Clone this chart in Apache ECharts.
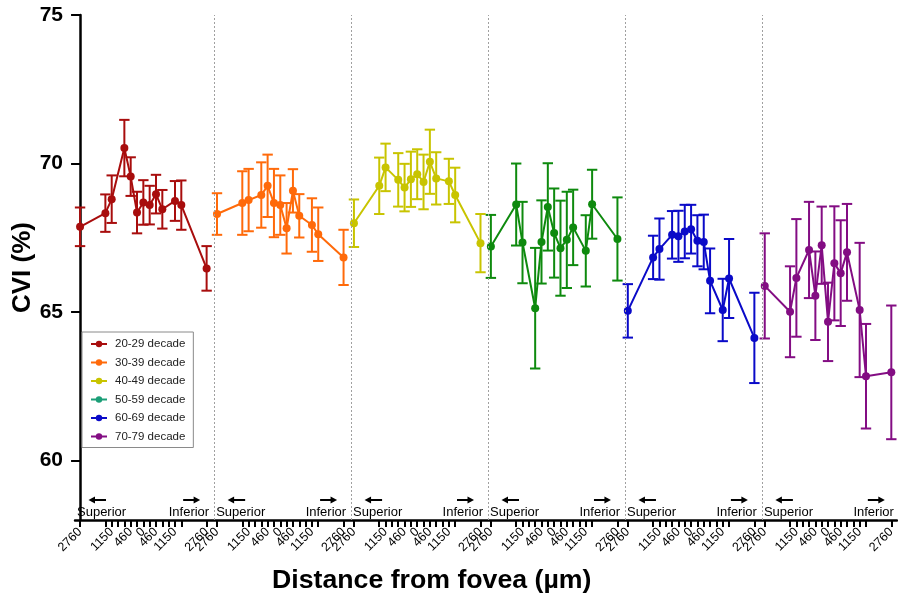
<!DOCTYPE html>
<html>
<head>
<meta charset="utf-8">
<script src="https://cdn.jsdelivr.net/npm/echarts@6/dist/echarts.min.js"></script>
<style>html,body{margin:0;padding:0;background:#fff;}#c{width:898px;height:597px;}</style>
</head>
<body>
<div id="c"></div>
<script>
// ---- data ----
const slotPositions = [0, 4, 5, 7, 8, 9, 10, 11, 12, 13, 15, 16, 20];
const tickSlots = [0, 4, 5, 6, 7, 8, 9, 10, 11, 12, 13, 14, 15, 16, 20];
const labelSlots = [0, 5, 8, 10, 12, 15, 20];
const tickLabels = ['2760', '1150', '460', '0', '460', '1150', '2760'];
const decades = ['20-29 decade', '30-39 decade', '40-49 decade', '50-59 decade', '60-69 decade', '70-79 decade'];
const regionLeft = 'Superior';
const regionRight = 'Inferior';

const cvi2029 = [67.87, 68.33, 68.80, 70.52, 69.56, 68.35, 68.69, 68.60, 68.97, 68.46, 68.74, 68.60, 66.47];
const err2029 = [0.65, 0.63, 0.80, 0.95, 0.65, 0.70, 0.75, 0.65, 0.65, 0.65, 0.67, 0.83, 0.75];
const cvi3039 = [68.30, 68.67, 68.77, 68.94, 69.25, 68.67, 68.60, 67.82, 69.08, 68.24, 67.93, 67.62, 66.84];
const err3039 = [0.70, 1.07, 1.05, 1.10, 1.05, 1.15, 1.00, 0.85, 0.73, 0.73, 0.90, 0.90, 0.93];
const cvi4049 = [67.99, 69.25, 69.87, 69.45, 69.19, 69.47, 69.64, 69.38, 70.06, 69.50, 69.40, 68.94, 67.32];
const err4049 = [0.80, 0.95, 0.80, 0.90, 0.80, 0.93, 0.84, 0.92, 1.08, 0.88, 0.76, 0.92, 0.98];
const cvi5059 = [67.21, 68.62, 67.34, 65.13, 67.36, 68.54, 67.66, 67.15, 67.43, 67.85, 67.06, 68.63, 67.46];
const err5059 = [1.06, 1.38, 1.37, 2.03, 1.40, 1.47, 1.50, 1.60, 1.62, 1.27, 1.20, 1.16, 1.40];
const cvi6069 = [65.04, 66.84, 67.12, 67.60, 67.55, 67.71, 67.79, 67.40, 67.36, 66.05, 65.07, 66.13, 64.13];
const err6069 = [0.90, 0.73, 1.03, 0.80, 0.86, 0.90, 0.82, 0.86, 0.92, 1.09, 1.05, 1.33, 1.52];
const cvi7079 = [65.88, 65.01, 66.15, 67.09, 65.55, 67.25, 64.67, 66.64, 66.31, 67.01, 65.07, 62.84, 62.97];
const err7079 = [1.77, 1.53, 1.98, 1.62, 1.49, 1.30, 1.32, 1.92, 1.78, 1.63, 2.26, 1.76, 2.25];

const yTicks = [60, 65, 70, 75];

// ---- layout / style ----
const GROUP_SPAN = 21.64;   // slots per group block on the x axis
const SEP_SHIFT = 0.45;
const X_MIN = -0.8, X_MAX = 129.1;
const Y_MIN = 58, Y_MAX = 75;
const dataColors = ['#a80d0d', '#ff6a0a', '#c8c400', '#0e8a0e', '#0a0ac8', '#830d83'];
const legendColors = ['#a80d0d', '#ff6a0a', '#c8c400', '#1b9e77', '#0a0ac8', '#830d83'];
const FONT = 'Liberation Sans, Arial, Helvetica, sans-serif';

const cviAll = [cvi2029, cvi3039, cvi4049, cvi5059, cvi6069, cvi7079];
const errAll = [err2029, err3039, err4049, err5059, err6069, err7079];

const chart = echarts.init(document.getElementById('c'), null, {renderer: 'canvas'});

const xTickValues = [], xLabelValues = [], labelMap = {};
for (let g = 0; g < 6; g++) {
  tickSlots.forEach(s => xTickValues.push(g * GROUP_SPAN + s));
  labelSlots.forEach((s, i) => {
    const v = g * GROUP_SPAN + s;
    xLabelValues.push(v);
    labelMap[v.toFixed(3)] = tickLabels[i];
  });
}

const series = [];
for (let g = 0; g < 6; g++) {
  const color = dataColors[g];
  const lineData = slotPositions.map((s, i) => [g * GROUP_SPAN + s, cviAll[g][i]]);
  const errData = slotPositions.map((s, i) => [g * GROUP_SPAN + s, cviAll[g][i] - errAll[g][i], cviAll[g][i] + errAll[g][i]]);
  series.push({
    type: 'custom',
    name: 'err' + g,
    z: 2,
    encode: {x: 0, y: [1, 2]},
    data: errData,
    renderItem: function (params, api) {
      const x = api.value(0);
      const lo = api.coord([x, api.value(1)]);
      const hi = api.coord([x, api.value(2)]);
      const hw = 5.2;
      const st = {stroke: color, lineWidth: 2};
      return {type: 'group', children: [
        {type: 'line', shape: {x1: hi[0], y1: hi[1], x2: lo[0], y2: lo[1]}, style: st},
        {type: 'line', shape: {x1: hi[0] - hw, y1: hi[1], x2: hi[0] + hw, y2: hi[1]}, style: st},
        {type: 'line', shape: {x1: lo[0] - hw, y1: lo[1], x2: lo[0] + hw, y2: lo[1]}, style: st}
      ]};
    }
  });
  series.push({
    type: 'line',
    name: 'line' + g,
    z: 3,
    data: lineData,
    symbol: 'circle',
    symbolSize: 8,
    showSymbol: true,
    animation: false,
    lineStyle: {color: color, width: 2},
    itemStyle: {color: color}
  });
}

// separators between decade blocks
const sepValues = [];
for (let g = 1; g < 6; g++) sepValues.push({xAxis: g * GROUP_SPAN - SEP_SHIFT});
series.push({
  type: 'line',
  name: 'sep',
  data: [],
  markLine: {
    silent: true,
    symbol: 'none',
    label: {show: false},
    lineStyle: {type: [2, 2], color: '#a0a0a0', width: 1},
    data: sepValues
  }
});

// Superior / Inferior annotations per block
const annData = [];
for (let g = 0; g < 6; g++) {
  const left = g === 0 ? X_MIN : g * GROUP_SPAN - SEP_SHIFT;
  const right = (g + 1) * GROUP_SPAN - SEP_SHIFT;
  annData.push([left, right, Y_MIN]);
}
series.push({
  type: 'custom',
  name: 'ann',
  z: 4,
  clip: false,
  encode: {x: [0, 1], y: 2},
  data: annData,
  renderItem: function (params, api) {
    const pl = api.coord([api.value(0), api.value(2)]);
    const pr = api.coord([api.value(1), api.value(2)]);
    const yb = pl[1] - 1;
    const ya = pl[1] - 20;
    const font = '13px ' + FONT;
    const st = {stroke: '#000', lineWidth: 2};
    const la = pl[0] + 13.5, lb = pl[0] + 31;
    const ra = pr[0] - 31, rb = pr[0] - 14;
    return {type: 'group', children: [
      {type: 'text', style: {text: regionLeft, x: pl[0] + 2, y: yb, textAlign: 'left', textVerticalAlign: 'bottom', font: font, fill: '#000'}},
      {type: 'text', style: {text: regionRight, x: pr[0] - 5, y: yb, textAlign: 'right', textVerticalAlign: 'bottom', font: font, fill: '#000'}},
      {type: 'line', shape: {x1: la + 4, y1: ya, x2: lb, y2: ya}, style: st},
      {type: 'polygon', shape: {points: [[la, ya], [la + 6.5, ya - 3.5], [la + 6.5, ya + 3.5]]}, style: {fill: '#000'}},
      {type: 'line', shape: {x1: ra, y1: ya, x2: rb - 4, y2: ya}, style: st},
      {type: 'polygon', shape: {points: [[rb, ya], [rb - 6.5, ya - 3.5], [rb - 6.5, ya + 3.5]]}, style: {fill: '#000'}}
    ]};
  }
});

// legend-only series
decades.forEach((d, i) => {
  series.push({
    type: 'line',
    name: d,
    data: [],
    symbol: 'circle',
    symbolSize: 6,
    lineStyle: {color: legendColors[i], width: 1.5},
    itemStyle: {color: legendColors[i]}
  });
});

const option = {
  animation: false,
  backgroundColor: '#fff',
  grid: {left: 75, right: 1, top: 15, bottom: 77, containLabel: false, outerBoundsMode: 'none'},
  legend: {
    data: decades,
    orient: 'vertical',
    left: 82,
    top: 332,
    padding: [5, 8, 4, 8],
    itemWidth: 16,
    itemHeight: 8,
    itemGap: 4.5,
    borderColor: '#8a8a8a',
    borderWidth: 1,
    backgroundColor: '#fff',
    selectedMode: false,
    textStyle: {fontFamily: FONT, fontSize: 11.5, color: '#222', lineHeight: 14, padding: [0, 0, 0, 3]}
  },
  xAxis: {
    type: 'value',
    min: X_MIN,
    max: X_MAX,
    splitLine: {show: false},
    axisLine: {show: true, onZero: false, lineStyle: {color: '#000', width: 2.5}},
    axisTick: {show: true, length: 7, lineStyle: {color: '#000', width: 2}, customValues: xTickValues},
    axisLabel: {
      show: true, rotate: 45, margin: 10, fontFamily: FONT, fontSize: 12.5, color: '#000',
      customValues: xLabelValues,
      formatter: function (v) { return labelMap[Number(v).toFixed(3)] || ''; }
    }
  },
  yAxis: {
    type: 'value',
    min: Y_MIN,
    max: Y_MAX,
    name: 'CVI (%)',
    nameLocation: 'middle',
    nameGap: 39,
    nameMoveOverlap: false,
    nameTextStyle: {fontFamily: FONT, fontSize: 26, fontWeight: 'bold', color: '#000'},
    splitLine: {show: false},
    axisLine: {show: true, lineStyle: {color: '#000', width: 2.5}},
    axisTick: {show: true, length: 9, lineStyle: {color: '#000', width: 2}, customValues: yTicks},
    axisLabel: {show: true, margin: 12, fontFamily: FONT, fontSize: 21, fontWeight: 'bold', color: '#000', customValues: yTicks}
  },
  graphic: [{
    type: 'text',
    style: {text: 'Distance from fovea (µm)', font: 'bold 26.7px ' + FONT, fill: '#000'},
    top: 567,
    left: 272
  }],
  series: series
};
chart.setOption(option);
</script>
</body>
</html>
